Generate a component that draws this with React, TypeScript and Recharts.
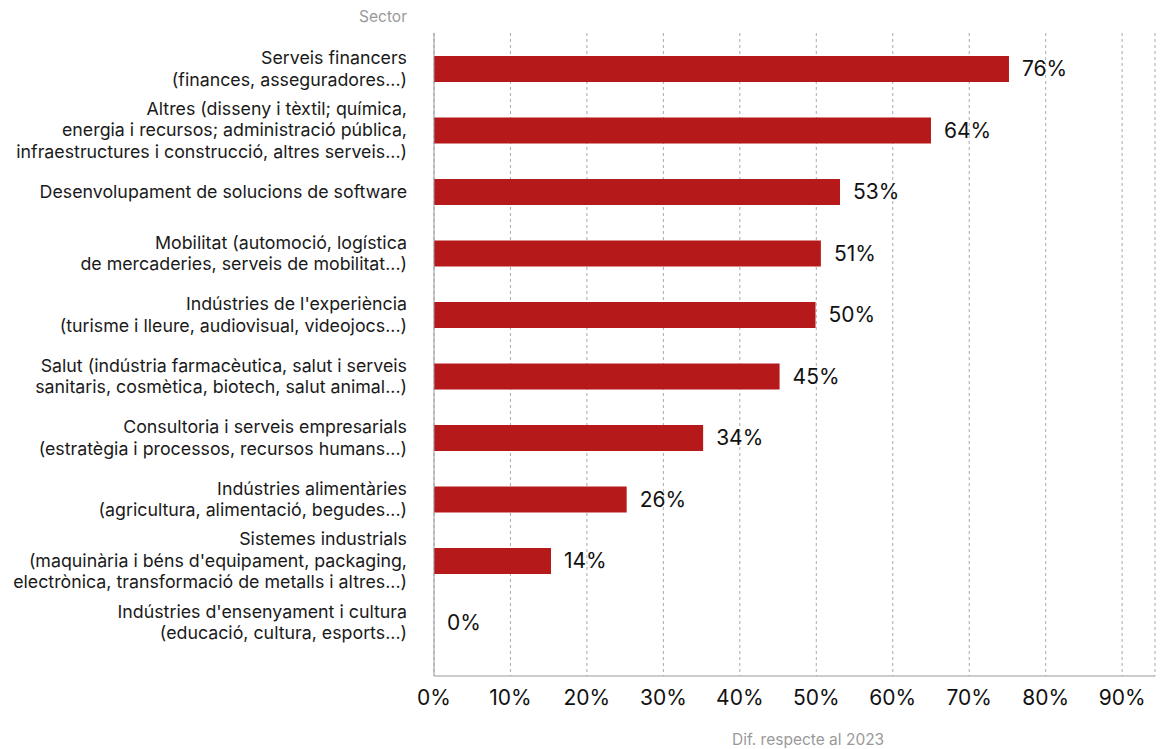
import { Bar, CartesianGrid, ComposedChart, LabelList, Line, XAxis, YAxis } from "recharts"

// sector names, one string per line of the axis label
const sectors = [
  ["Serveis financers", "(finances, asseguradores...)"],
  ["Altres (disseny i tèxtil; química,", "energia i recursos; administració pública,", "infraestructures i construcció, altres serveis...)"],
  ["Desenvolupament de solucions de software"],
  ["Mobilitat (automoció, logística", "de mercaderies, serveis de mobilitat...)"],
  ["Indústries de l'experiència", "(turisme i lleure, audiovisual, videojocs...)"],
  ["Salut (indústria farmacèutica, salut i serveis", "sanitaris, cosmètica, biotech, salut animal...)"],
  ["Consultoria i serveis empresarials", "(estratègia i processos, recursos humans...)"],
  ["Indústries alimentàries", "(agricultura, alimentació, begudes...)"],
  ["Sistemes industrials", "(maquinària i béns d'equipament, packaging,", "electrònica, transformació de metalls i altres...)"],
  ["Indústries d'ensenyament i cultura", "(educació, cultura, esports...)"],
]

const diffValues = [75.2, 65.0, 53.1, 50.6, 49.9, 45.2, 35.2, 25.2, 15.3, 0]
const diffLabels = ["76%", "64%", "53%", "51%", "50%", "45%", "34%", "26%", "14%", "0%"]

const xTicks = [0, 10, 20, 30, 40, 50, 60, 70, 80, 90]

const data = sectors.map((lines, i) => ({
  name: lines.join("\n"),
  value: diffValues[i],
  label: diffLabels[i],
}))

const FONT = "Inter, 'Noto Sans', sans-serif"

const SectorTick = (props: any) => {
  const { x, y, payload } = props
  const lines = String(payload.value).split("\n")
  const lh = 21.5
  const start = y - ((lines.length - 1) * lh) / 2
  return (
    <text x={x} y={start} textAnchor="end" fontSize={17.8} fill="#1a1a1a" fontFamily={FONT}>
      {lines.map((l, i) => (
        <tspan key={i} x={x} y={start + i * lh} dy="0.35em">
          {l}
        </tspan>
      ))}
    </text>
  )
}

export default function App() {
  return (
    <div style={{ position: "absolute", left: 0, top: 0, width: 1161, height: 749, background: "#fff", fontFamily: FONT }}>
      <div style={{ position: "absolute", right: 1161 - 407, top: 7, fontSize: 15.5, color: "#999" }}>Sector</div>
      <ComposedChart
        width={1161}
        height={749}
        data={data}
        layout="vertical"
        margin={{ top: 33, right: 6, bottom: 33, left: 0 }}
      >
        <CartesianGrid horizontal={false} strokeDasharray="3 3" stroke="#aaa" />
        <XAxis
          type="number"
          domain={[0, 94.3]}
          ticks={xTicks}
          tickFormatter={(v) => `${v}%`}
          tickSize={0}
          tickMargin={14}
          height={40}
          axisLine={{ stroke: "#999" }}
          tick={{ fontSize: 21, fill: "#111", fontFamily: FONT }}
          allowDataOverflow
        />
        <YAxis
          type="category"
          dataKey="name"
          width={434}
          tickSize={0}
          tickMargin={27}
          padding={{ top: 5, bottom: 23 }}
          axisLine={{ stroke: "#999" }}
          tick={<SectorTick />}
          interval={0}
        />
        <Bar dataKey="value" fill="#b5191a" barSize={26} isAnimationActive={false} />
        {/* invisible line only carries the value labels, so the 0% row gets one too */}
        <Line
          dataKey="value"
          stroke="none"
          dot={false}
          activeDot={false}
          legendType="none"
          isAnimationActive={false}
        >
          <LabelList dataKey="label" position="right" offset={13} fill="#111" fontSize={21} fontFamily={FONT} />
        </Line>
      </ComposedChart>
      <div style={{ position: "absolute", left: 732, top: 730, fontSize: 15.5, color: "#999" }}>Dif. respecte al 2023</div>
    </div>
  )
}
